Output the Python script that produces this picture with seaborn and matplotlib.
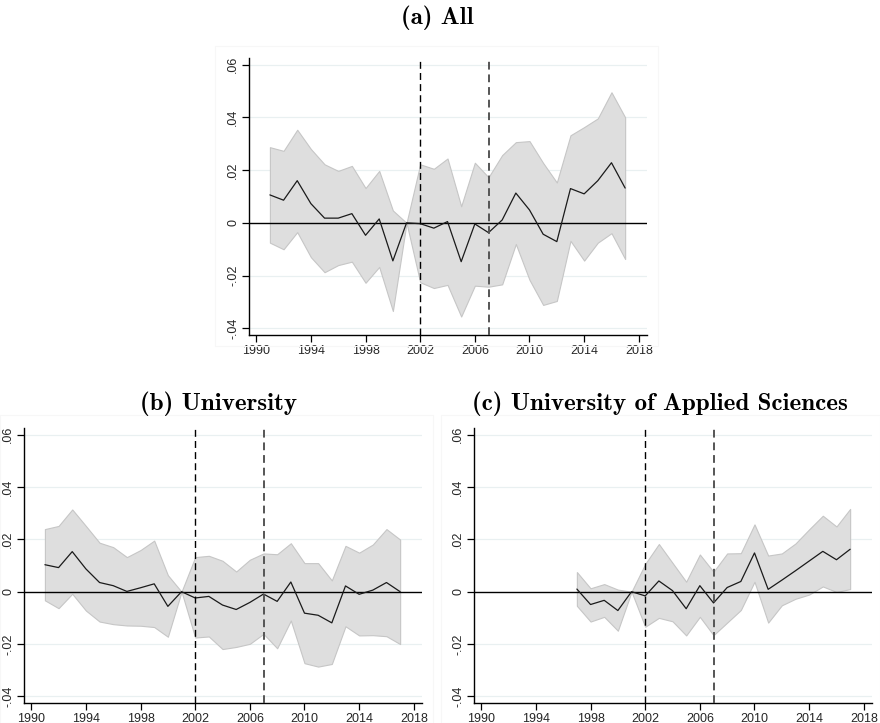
import numpy as np
import pandas as pd
import matplotlib
matplotlib.use("Agg")
import matplotlib.pyplot as plt
from matplotlib.patches import Rectangle
import seaborn as sns

# ---- Event-study estimates with 95% confidence bands ----
years_all = list(range(1991, 2018))
est_all = [0.0106, 0.0086, 0.0160, 0.0073, 0.0018, 0.0018, 0.0035, -0.0047, 0.0015,
           -0.0144, 0.0, -0.0003, -0.0020, 0.0005, -0.0147, -0.0004, -0.0037, 0.0011,
           0.0113, 0.0049, -0.0043, -0.0071, 0.0130, 0.0110, 0.0160, 0.0228, 0.0132]
hi_all = [0.0287, 0.0273, 0.0353, 0.0280, 0.0222, 0.0197, 0.0216, 0.0132, 0.0197,
          0.0047, 0.0, 0.0222, 0.0205, 0.0244, 0.0063, 0.0228, 0.0173, 0.0257,
          0.0306, 0.0310, 0.0227, 0.0153, 0.0332, 0.0363, 0.0396, 0.0495, 0.0400]
lo_all = [-0.0075, -0.0100, -0.0035, -0.0130, -0.0187, -0.0160, -0.0147, -0.0227, -0.0167,
          -0.0334, 0.0, -0.0225, -0.0247, -0.0235, -0.0355, -0.0238, -0.0242, -0.0233,
          -0.0080, -0.0216, -0.0311, -0.0296, -0.0068, -0.0143, -0.0075, -0.0039, -0.0137]

years_uni = list(range(1991, 2018))
est_uni = [0.0103, 0.0092, 0.0153, 0.0087, 0.0035, 0.0023, 0.0001, 0.0015, 0.0030,
           -0.0056, 0.0, -0.0024, -0.0018, -0.0051, -0.0068, -0.0041, -0.0009, -0.0037,
           0.0037, -0.0082, -0.0090, -0.0119, 0.0022, -0.0010, 0.0006, 0.0035, 0.0]
hi_uni = [0.0239, 0.0251, 0.0314, 0.0251, 0.0187, 0.0170, 0.0132, 0.0159, 0.0195,
          0.0063, 0.0, 0.0132, 0.0137, 0.0118, 0.0077, 0.0122, 0.0146, 0.0143,
          0.0185, 0.0109, 0.0109, 0.0043, 0.0175, 0.0149, 0.0180, 0.0239, 0.0199]
lo_uni = [-0.0033, -0.0063, -0.0008, -0.0072, -0.0114, -0.0124, -0.0129, -0.0130, -0.0135,
          -0.0172, 0.0, -0.0175, -0.0171, -0.0219, -0.0211, -0.0199, -0.0161, -0.0216,
          -0.0110, -0.0273, -0.0286, -0.0276, -0.0132, -0.0167, -0.0166, -0.0170, -0.0200]

years_uas = list(range(1997, 2018))
est_uas = [0.0010, -0.0049, -0.0033, -0.0072, 0.0, -0.0016, 0.0041, 0.0004, -0.0065,
           0.0023, -0.0043, 0.0016, 0.0039, 0.0148, 0.0009, 0.0044, 0.0080, 0.0117,
           0.0154, 0.0122, 0.0162]
hi_uas = [0.0075, 0.0013, 0.0029, 0.0008, 0.0, 0.0106, 0.0182, 0.0110, 0.0038,
          0.0142, 0.0076, 0.0146, 0.0147, 0.0257, 0.0138, 0.0146, 0.0184, 0.0238,
          0.0290, 0.0249, 0.0316]
lo_uas = [-0.0054, -0.0114, -0.0096, -0.0149, 0.0, -0.0134, -0.0100, -0.0113, -0.0167,
          -0.0096, -0.0166, -0.0118, -0.0070, 0.0038, -0.0118, -0.0052, -0.0027, -0.0011,
          0.0020, -0.0001, 0.0010]

x_ticks = [1990, 1994, 1998, 2002, 2006, 2010, 2014, 2018]
y_ticks = [-0.04, -0.02, 0.0, 0.02, 0.04, 0.06]
y_tick_labels = ["-.04", "-.02", "0", ".02", ".04", ".06"]
reform_years = [2002, 2007]

titles = ["(a) All", "(b) University", "(c) University of Applied Sciences"]

sns.set_style("white")
plt.rcParams["font.family"] = ["Liberation Sans", "DejaVu Sans"]

W, H = 880, 723
fig = plt.figure(figsize=(W / 100, H / 100), dpi=100)
fig.patch.set_facecolor("white")


def px_axes(left, top, right, bottom):
    return fig.add_axes([left / W, 1 - bottom / H, (right - left) / W, (bottom - top) / H])


def region(left, top, right, bottom):
    fig.patches.append(Rectangle((left / W, 1 - bottom / H), (right - left) / W,
                                 (bottom - top) / H, transform=fig.transFigure,
                                 fill=False, edgecolor="#f7f7f7", linewidth=0.8, zorder=0))


def draw_panel(ax, years, est, lo, hi):
    df = pd.DataFrame({"year": years, "est": est, "lo": lo, "hi": hi})
    for yv in [-0.04, -0.02, 0.02, 0.04, 0.06]:
        ax.axhline(yv, color="#e9f0f1", linewidth=0.9, zorder=0)
    ax.fill_between(df["year"], df["lo"], df["hi"], facecolor="#dedede",
                    edgecolor="#c6c6c6", linewidth=0.8, zorder=1)
    ax.axhline(0, color="black", linewidth=1.0, zorder=2)
    sns.lineplot(data=df, x="year", y="est", ax=ax, color="#1a1a1a",
                 linewidth=0.9, zorder=3)
    ax.axvline(reform_years[0], color="black", linewidth=1.0,
               dashes=(5, 3), zorder=4)
    ax.axvline(reform_years[1], color="#555555", linewidth=1.4,
               dashes=(4, 2.5), zorder=4)
    ax.set_xlim(1989.47, 2018.6)
    ax.set_ylim(-0.0425, 0.0625)
    ax.set_xticks(x_ticks)
    ax.set_xticklabels([str(t) for t in x_ticks])
    ax.set_yticks(y_ticks)
    ax.set_yticklabels(y_tick_labels, rotation=90, va="center")
    ax.set_xlabel("")
    ax.set_ylabel("")
    for s in ["top", "right"]:
        ax.spines[s].set_visible(False)
    for s in ["left", "bottom"]:
        ax.spines[s].set_color("black")
        ax.spines[s].set_linewidth(1.0)
    ax.tick_params(axis="both", direction="out", length=5, width=0.9,
                   color="black", labelsize=9, pad=2, left=True, bottom=True)
    ax.set_facecolor("white")


# Panel (a)
region(215, 46, 658, 346)
ax_a = px_axes(249, 58, 647, 335)
draw_panel(ax_a, years_all, est_all, lo_all, hi_all)

# Panel (b)
region(0, 415, 433, 723)
ax_b = px_axes(24, 428, 422, 703)
draw_panel(ax_b, years_uni, est_uni, lo_uni, hi_uni)

# Panel (c)
region(441, 415, 880, 723)
ax_c = px_axes(474, 428, 872, 703)
draw_panel(ax_c, years_uas, est_uas, lo_uas, hi_uas)

title_font = dict(family=["cmb10", "DejaVu Serif"], fontsize=18, color="black",
                  ha="center", va="center")
fig.text(437 / W, 1 - 18 / H, titles[0], **title_font)
fig.text(218 / W, 1 - 404 / H, titles[1], **title_font)
fig.text(660 / W, 1 - 404 / H, titles[2], **title_font)

fig.savefig("out.png", dpi=100, facecolor="white")
